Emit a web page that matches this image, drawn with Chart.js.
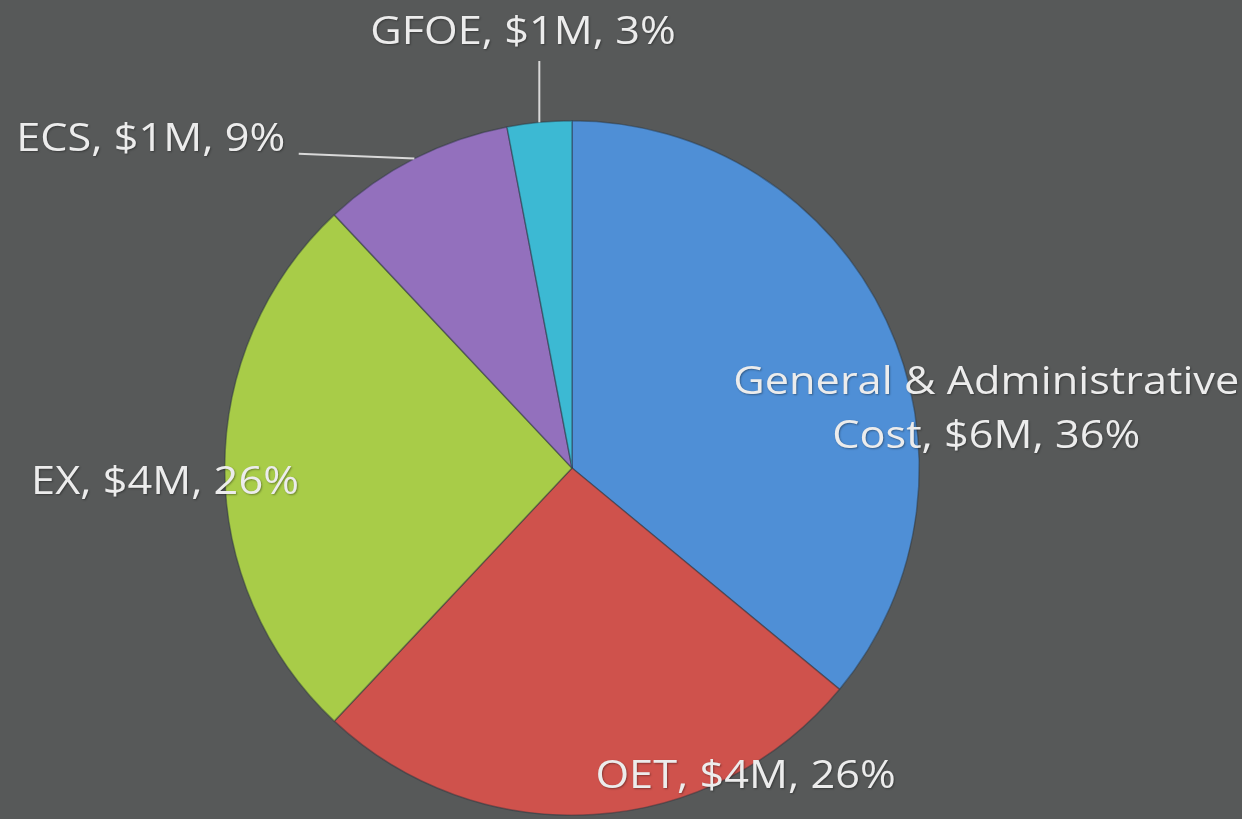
<!DOCTYPE html>
<html>
<head>
<meta charset="utf-8">
<script src="https://cdn.jsdelivr.net/npm/chart.js@4"></script>
<style>
  html, body { margin: 0; padding: 0; background: #575959; }
  #wrap { width: 1242px; height: 819px; position: relative; }
</style>
</head>
<body>
<div id="wrap"><canvas id="c" width="1242" height="819"></canvas></div>
<script>
// ---- data ----
const categories = ["General & Administrative Cost", "OET", "EX", "ECS", "GFOE"];
const amounts = ["$6M", "$4M", "$4M", "$1M", "$1M"];
const percents = [36, 26, 26, 9, 3];
const colors = ["#4f8fd6", "#cf524c", "#a8cc48", "#9370bd", "#3cb9d3"];

// label layout (relative to pie centre, in radius units)
const labelLines = [
  ["General & Administrative", "Cost, " + amounts[0] + ", " + percents[0] + "%"],
  [categories[1] + ", " + amounts[1] + ", " + percents[1] + "%"],
  [categories[2] + ", " + amounts[2] + ", " + percents[2] + "%"],
  [categories[3] + ", " + amounts[3] + ", " + percents[3] + "%"],
  [categories[4] + ", " + amounts[4] + ", " + percents[4] + "%"]
];
const labelPos = [[1.193, -0.167], [0.500, 0.891], [-1.172, 0.043], [-1.213, -0.945], [-0.141, -1.252]];
const leaderEnd = [null, null, null, [-0.787, -0.905], ["edge", -1.172]];

const labelPlugin = {
  id: 'sliceLabels',
  afterDatasetsDraw(chart) {
    const ctx = chart.ctx;
    const arcs = chart.getDatasetMeta(0).data;
    ctx.save();
    ctx.font = '38px "Open Sans", Lato, sans-serif';
    ctx.textAlign = 'center';
    ctx.textBaseline = 'middle';
    const lineH = 54;
    arcs.forEach((arc, i) => {
      const p = arc.getProps(['x', 'y', 'startAngle', 'endAngle', 'outerRadius'], true);
      const R = p.outerRadius;
      const mid = (p.startAngle + p.endAngle) / 2;
      const le = leaderEnd[i];
      if (le) {
        const ex = p.x + R * Math.cos(mid), ey = p.y + R * Math.sin(mid);
        const tx = le[0] === 'edge' ? ex : p.x + le[0] * R;
        const ty = p.y + le[1] * R;
        ctx.strokeStyle = '#d9d9d9';
        ctx.lineWidth = 2;
        ctx.beginPath();
        ctx.moveTo(ex, ey);
        ctx.lineTo(tx, ty);
        ctx.stroke();
      }
      const lines = labelLines[i];
      const cx = p.x + labelPos[i][0] * R;
      const cy = p.y + labelPos[i][1] * R;
      const y0 = cy - (lines.length - 1) * lineH / 2;
      ctx.shadowColor = 'rgba(0,0,0,0.35)';
      ctx.shadowBlur = 2;
      ctx.shadowOffsetX = 1;
      ctx.shadowOffsetY = 1;
      ctx.fillStyle = '#ececec';
      lines.forEach((t, k) => {
        ctx.save();
        ctx.translate(cx, y0 + k * lineH);
        ctx.scale(1.14, 1);
        ctx.fillText(t, 0, 0);
        ctx.restore();
      });
      ctx.shadowColor = 'transparent';
    });
    ctx.restore();
  }
};

new Chart(document.getElementById('c'), {
  type: 'pie',
  data: {
    labels: categories,
    datasets: [{
      data: percents,
      backgroundColor: colors,
      borderColor: 'rgba(40,50,60,0.45)',
      borderWidth: 1.5
    }]
  },
  options: {
    responsive: false,
    animation: false,
    layout: { padding: { left: 224, right: 322, top: 120, bottom: 3 } },
    plugins: { legend: { display: false }, tooltip: { enabled: false } }
  },
  plugins: [labelPlugin]
});
</script>
</body>
</html>
